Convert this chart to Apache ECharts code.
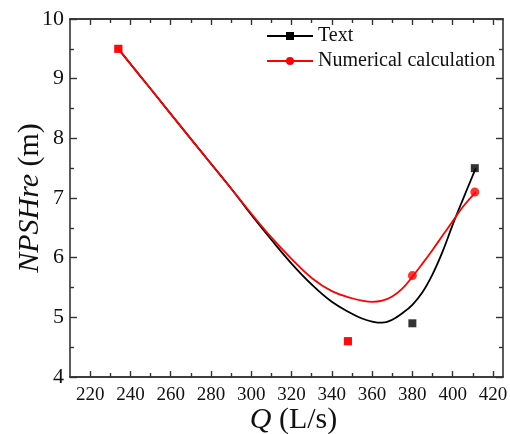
<!DOCTYPE html>
<html><head><meta charset="utf-8">
<script src="https://cdn.jsdelivr.net/npm/echarts@6/dist/echarts.min.js"></script>
<style>html,body{margin:0;padding:0;background:#fff}#c{width:510px;height:434px}</style>
</head><body><div id="c"></div>
<script>
// measured points
const qPts = [234, 348, 380, 411];
const textPts = [9.5, 4.6, 4.9, 7.5];
const numPts = [9.5, 4.6, 5.7, 7.1];
// fitted curves
const qCurve = [234, 250, 270, 290, 300, 310, 320, 330, 340, 350, 355, 360, 365, 370, 375, 380, 385, 390, 395, 400, 405, 411.5];
const textCurve = [9.5, 8.83, 7.99, 7.16, 6.72, 6.30, 5.90, 5.55, 5.26, 5.06, 4.98, 4.93, 4.91, 4.96, 5.07, 5.21, 5.42, 5.72, 6.10, 6.55, 6.97, 7.5];
const numCurve = [9.5, 8.83, 7.99, 7.16, 6.74, 6.34, 5.98, 5.66, 5.44, 5.32, 5.28, 5.26, 5.28, 5.35, 5.48, 5.68, 5.90, 6.13, 6.37, 6.61, 6.85, 7.1];
const xMajor = [220, 240, 260, 280, 300, 320, 340, 360, 380, 400, 420];
const xMinor = [230, 250, 270, 290, 310, 330, 350, 370, 390, 410];

const FONT = '"Liberation Serif", "Times New Roman", serif';
const AX = '#333';
const chart = echarts.init(document.getElementById('c'));

function xAxisDef(pos, ticks, len, labels) {
  return {
    type: 'value', min: 210, max: 425, position: pos,
    axisLine: { show: true, onZero: false, lineStyle: { color: AX, width: 1.6 } },
    axisTick: { show: true, inside: true, length: len, customValues: ticks, lineStyle: { color: AX, width: 1.4 } },
    axisLabel: labels ? { show: true, customValues: xMajor, fontFamily: FONT, fontSize: 19, color: '#111', margin: 9 } : { show: false },
    splitLine: { show: false }
  };
}
function yAxisDef(pos, labels) {
  return {
    type: 'value', min: 4, max: 10, interval: 1, position: pos,
    name: labels ? '{i|NPSHre} (m)' : '',
    nameLocation: 'middle', nameGap: 25, nameRotate: 90, nameMoveOverlap: false,
    nameTextStyle: { fontFamily: FONT, fontSize: 30, color: '#111', rich: { i: { fontFamily: FONT, fontSize: 30, fontStyle: 'italic', color: '#111' } } },
    axisLine: { show: true, onZero: false, lineStyle: { color: AX, width: 1.6 } },
    axisTick: { show: true, inside: true, length: 7, lineStyle: { color: AX, width: 1.4 } },
    minorTick: { show: true, splitNumber: 2, length: 4, lineStyle: { color: AX, width: 1.4 } },
    axisLabel: labels ? { show: true, fontFamily: FONT, fontSize: 22, color: '#111', margin: 6 } : { show: false },
    splitLine: { show: false }
  };
}

const xa0 = xAxisDef('bottom', xMajor, 6, true);
xa0.name = '{i|Q} (L/s)';
xa0.nameLocation = 'middle';
xa0.nameGap = 28;
xa0.nameMoveOverlap = false;
xa0.nameTextStyle = { fontFamily: FONT, fontSize: 30, color: '#111', padding: [0, 0, 0, 14], rich: { i: { fontFamily: FONT, fontSize: 30, fontStyle: 'italic', color: '#111' } } };

chart.setOption({
  animation: false,
  grid: { left: 70, right: 7, top: 19, bottom: 57, outerBoundsMode: 'none', containLabel: false },
  xAxis: [xa0, xAxisDef('bottom', xMinor, 4, false), xAxisDef('top', xMajor, 6, false), xAxisDef('top', xMinor, 4, false)],
  yAxis: [yAxisDef('left', true), yAxisDef('right', false)],
  legend: {
    orient: 'vertical', left: 261, top: 21, itemWidth: 46, itemHeight: 10, itemGap: 5,
    data: ['Text', 'Numerical calculation'],
    textStyle: { fontFamily: FONT, fontSize: 20, color: '#111', lineHeight: 20 }
  },
  series: [
    { name: 'Text', type: 'line', data: qCurve.map((q, i) => [q, textCurve[i]]), smooth: 0.4, showSymbol: false,
      symbol: 'rect', symbolSize: 8, color: '#000', lineStyle: { color: '#000', width: 1.8 }, z: 2 },
    { name: 'Numerical calculation', type: 'line', data: qCurve.map((q, i) => [q, numCurve[i]]), smooth: 0.4, showSymbol: false,
      symbol: 'circle', symbolSize: 9, color: '#ff0000', lineStyle: { color: '#ff0000', width: 1.8 }, z: 3 },
    { name: 'Text', type: 'scatter', symbol: 'rect', symbolSize: 8, z: 4,
      data: qPts.map((q, i) => ({ value: [q, textPts[i]], itemStyle: { color: textPts[i] === numPts[i] ? '#ff0000' : '#000' } })) },
    { name: 'Numerical calculation', type: 'scatter', symbol: 'circle', symbolSize: 9, z: 5,
      data: qPts.map((q, i) => ({ value: [q, numPts[i]], itemStyle: { color: '#ff0000' }, symbol: textPts[i] === numPts[i] ? 'rect' : 'circle', symbolSize: textPts[i] === numPts[i] ? 8 : 9 })) }
  ]
});
</script></body></html>
